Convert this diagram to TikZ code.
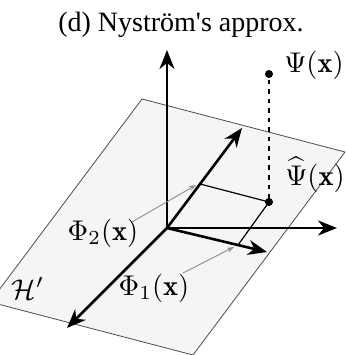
\documentclass[tikz,border=0pt]{standalone}
\usepackage{fontspec}
\newfontfamily\titlefont{Liberation Serif}
\usetikzlibrary{arrows.meta}
\newcommand{\mylabelmath}[1]{\scalebox{2.85}{$#1$}}
\begin{document}
\begin{tikzpicture}[x=1pt,y=-1pt,
  axis/.style={line width=2.6pt,-{Stealth[length=19pt,width=15pt,inset=6pt]}},
  ptr/.style={draw=black!45,line width=0.9pt,-{Stealth[length=7pt,width=5pt]}},
  proj/.style={line width=1.2pt},
  dashline/.style={line width=1.3pt,dash pattern=on 4.5pt off 5pt},
  plane/.style={draw=black!70,line width=0.8pt,fill=black!4},
  lbl/.style={anchor=base,inner sep=0pt},
  dot/.style={circle,fill=black,inner sep=0pt,minimum size=8pt}]
\useasboundingbox (0,0) rectangle (345,355);
\begin{scope}
  \clip (0,0) rectangle (345,355);
  \draw[plane] (142,99) -- (345,152) -- (193,355) -- (-10,302) -- cycle;
\end{scope}
\node[lbl,font=\titlefont\fontsize{28}{32}\selectfont] (title) at (181,32) {(d) Nyström's approx.};
\coordinate (O) at (167,228);
\coordinate (up) at (167,50);
\coordinate (right) at (337,228);
\coordinate (dl) at (67,328);
\coordinate (diag) at (242,128);
\coordinate (dr) at (267,252);
\coordinate (P2) at (200,184);
\coordinate (P1) at (238,245);
\coordinate (D) at (269,202);
\draw[proj] (P2) -- (D) -- (P1);
\draw[dashline] (269,80) -- (D);
\draw[axis] (O) -- (up);
\draw[axis] (O) -- (right);
\draw[axis] (O) -- (dl);
\draw[axis] (O) -- (diag);
\draw[axis] (O) -- (dr);
\node[dot] (psi) at (269,74) {};
\node[dot] (psihat) at (D) {};
\node[lbl] (psilbl) at (314,73) {\mylabelmath{\Psi(\mathbf{x})}};
\node[lbl] (psihatlbl) at (315,185) {\mylabelmath{\widehat{\Psi}(\mathbf{x})}};
\node[lbl] (phi2) at (103,240) {\mylabelmath{\Phi_2(\mathbf{x})}};
\node[lbl] (phi1) at (154,295) {\mylabelmath{\Phi_1(\mathbf{x})}};
\node[lbl] (H) at (28,299) {\mylabelmath{\mathcal{H}'}};
\coordinate (s2) at (132,222);
\coordinate (e2) at (196,185);
\coordinate (s1) at (183,273);
\coordinate (e1) at (234,247);
\draw[ptr] (s2) -- (e2);
\draw[ptr] (s1) -- (e1);
\end{tikzpicture}
\end{document}
